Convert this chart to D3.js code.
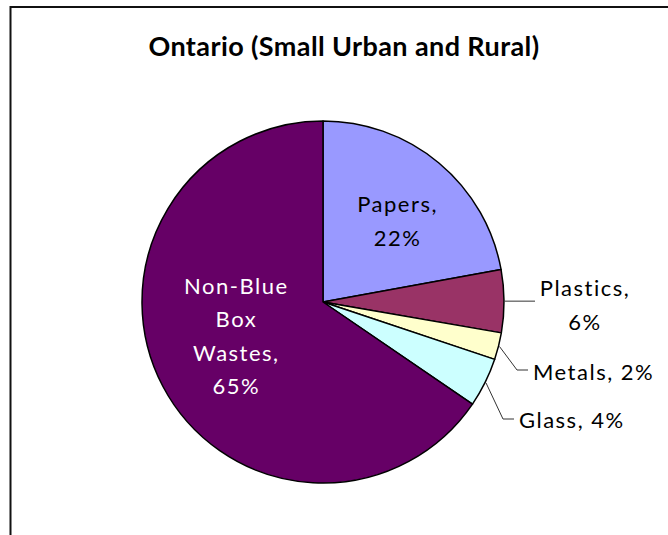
<!DOCTYPE html>
<html lang="en">
<head>
  <meta charset="UTF-8">
  <title>Ontario (Small Urban and Rural)</title>
  <style>
    body {
      margin: 0;
      background-color: white;
      font-family: Lato, "Open Sans", sans-serif;
    }
    svg { display: block; }
    .title {
      font-size: 27px;
      font-weight: bold;
      letter-spacing: 0.4px;
      text-anchor: middle;
    }
    .label {
      font-size: 22px;
      letter-spacing: 1.5px;
    }
  </style>
</head>
<body>
  <div id="chart"></div>

  <script src="https://d3js.org/d3.v7.min.js"></script>
  <script>
    // Data
    const categories = ['Papers', 'Plastics', 'Metals', 'Glass', 'Non-Blue Box Wastes'];
    const values = [22.1, 5.6, 2.4, 4.4, 65.4];
    const colors = ['#9999ff', '#993366', '#ffffcc', '#ccffff', '#660066'];

    const width = 668;
    const height = 535;
    const cx = 323, cy = 302, radius = 181;

    const svg = d3.select('#chart')
      .append('svg')
      .attr('width', width)
      .attr('height', height);

    // Chart frame (only top and left edges visible)
    svg.append('rect')
      .attr('x', 10.5)
      .attr('y', 7)
      .attr('width', 800)
      .attr('height', 700)
      .attr('fill', 'none')
      .attr('stroke', '#111')
      .attr('stroke-width', 2);

    svg.append('text')
      .attr('class', 'title')
      .attr('x', 344)
      .attr('y', 56)
      .text('Ontario (Small Urban and Rural)');

    const total = d3.sum(values);
    const data = categories.map((c, i) => ({ name: c, value: values[i], color: colors[i] }));

    const pie = d3.pie()
      .value(d => d.value)
      .sort(null);

    const arcs = pie(data);

    const arc = d3.arc()
      .innerRadius(0)
      .outerRadius(radius);

    const g = svg.append('g')
      .attr('transform', `translate(${cx}, ${cy})`);

    g.selectAll('path')
      .data(arcs)
      .enter()
      .append('path')
      .attr('d', arc)
      .attr('fill', d => d.data.color)
      .attr('stroke', 'black')
      .attr('stroke-width', 1.5)
      .attr('stroke-linejoin', 'round');

    const pct = d => Math.round(d.data.value / total * 100) + '%';
    const mid = d => (d.startAngle + d.endAngle) / 2;
    const polar = (a, r) => [Math.sin(a) * r, -Math.cos(a) * r];

    // Inside labels: Papers and Non-Blue Box Wastes
    const inside = {
      'Papers': { r: 104, dx: 8, dy: 0, lines: d => ['Papers,', pct(d)], color: 'black' },
      'Non-Blue Box Wastes': { r: 98, dx: 0, dy: -11, lines: d => ['Non-Blue', 'Box', 'Wastes,', pct(d)], color: 'white' }
    };
    const lineH = 33.5;

    arcs.filter(d => inside[d.data.name]).forEach(d => {
      const opt = inside[d.data.name];
      const [x, y] = polar(mid(d), opt.r);
      const lines = opt.lines(d);
      const t = g.append('text')
        .attr('class', 'label')
        .attr('text-anchor', 'middle')
        .style('fill', opt.color);
      lines.forEach((ln, i) => {
        t.append('tspan')
          .attr('x', x + opt.dx)
          .attr('y', y + opt.dy + (i - (lines.length - 1) / 2) * lineH + 7)
          .text(ln);
      });
    });

    // Outside labels with leader lines
    const outside = {
      'Plastics': { elbow: null, end: [212, 1], text: [262, -6], anchor: 'middle', lines: d => ['Plastics,', pct(d)] },
      'Metals': { elbow: [194, 68], end: [205, 68], text: [210, 78], anchor: 'start', lines: d => ['Metals, ' + pct(d)] },
      'Glass': { elbow: [180, 117], end: [191, 117], text: [196, 126], anchor: 'start', lines: d => ['Glass, ' + pct(d)] }
    };

    arcs.filter(d => outside[d.data.name]).forEach(d => {
      const opt = outside[d.data.name];
      const start = polar(mid(d), radius + 1);
      const pts = [start];
      if (opt.elbow) pts.push(opt.elbow);
      pts.push(opt.end);
      if (!opt.elbow) pts[1] = [opt.end[0], start[1]];

      g.append('path')
        .attr('d', d3.line()(pts))
        .attr('fill', 'none')
        .attr('stroke', '#333')
        .attr('stroke-width', 1);

      const lines = opt.lines(d);
      const t = g.append('text')
        .attr('class', 'label')
        .attr('text-anchor', opt.anchor)
        .style('fill', 'black');
      lines.forEach((ln, i) => {
        t.append('tspan')
          .attr('x', opt.text[0])
          .attr('y', opt.text[1] + i * lineH)
          .text(ln);
      });
    });
  </script>
</body>
</html>
